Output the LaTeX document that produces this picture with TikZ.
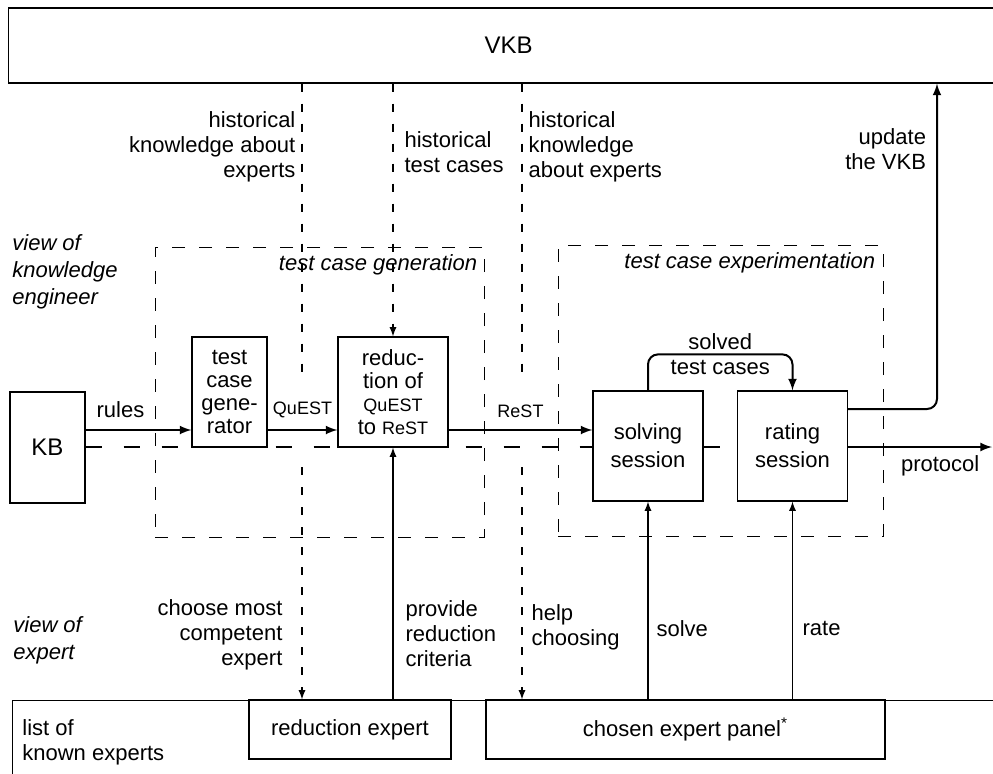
\documentclass[tikz,border=0pt]{standalone}
\usepackage{fontspec}
\setmainfont{Liberation Sans}
\usetikzlibrary{positioning, calc}

\newcommand{\acro}[1]{{\fontsize{9}{10}\selectfont #1}}

\begin{document}
\begin{tikzpicture}[x=0.5pt, y=-0.5pt,
	font=\fontsize{11}{12.5}\selectfont,
	box/.style={rectangle, draw, line width=0.6pt, align=center, inner sep=0pt},
	proc/.style={box, minimum width=#1, minimum height=55pt, font=\fontsize{11}{11.5}\selectfont},
	sess/.style={box, minimum width=55pt, minimum height=55pt, font=\fontsize{11}{14}\selectfont},
	group/.style={draw, line width=0.5pt, dash pattern=on 6.5pt off 7pt},
	hist/.style={line width=0.6pt, dash pattern=on 4pt off 6pt},
	proto/.style={line width=0.8pt, dash pattern=on 8pt off 11pt},
	flow/.style={line width=1pt, -latex},
	feed/.style={line width=0.6pt, -latex},
	lbl/.style={inner sep=2pt, align=left},
	rlbl/.style={inner sep=2pt, align=right},
	view/.style={inner sep=0pt, align=left, font=\fontsize{11}{13.5}\selectfont\itshape}
	]
	\useasboundingbox (0,0) rectangle (993,773);

	\node[group, minimum width=164.5pt, minimum height=145pt] (gengrp) at (319.5,392) {};
	\node[group, minimum width=162.5pt, minimum height=145.5pt] (expgrp) at (720.5,390.5) {};
	\node[view, anchor=north east] at ([xshift=-3.5pt,yshift=-4pt]gengrp.north east) {test case generation};
	\node[view, anchor=north east] at ([xshift=-4pt,yshift=-4pt]expgrp.north east) {test case experimentation};

	\node[box, anchor=west, minimum width=500pt, minimum height=37.5pt, font=\fontsize{12}{14}\selectfont] (VKB) at (8,45.5) {VKB};
	\node[box, anchor=north west, minimum width=500pt, minimum height=50pt] (known) at (12,700) {};
	\node[lbl, inner sep=0pt, anchor=north west] at (22,719) {list of\\known experts};

	\node[proc=37.5pt, minimum height=55.5pt, font=\fontsize{12}{14}\selectfont] (KB) at (47.5,447.5) {KB};
	\node[proc=37.5pt] (gen) at (229.5,392) {test\\case\\gene-\\rator};
	\node[proc=55pt] (red) at (393,392) {reduc-\\tion of\\\acro{QuEST}\\to \acro{ReST}};
	\node[sess] (solv) at (648,446) {solving\\session};
	\node[sess] (rate) at (792.5,446) {rating\\session};
	\node[box, minimum width=101pt, minimum height=29.5pt] (redexp) at (350,729.5) {reduction expert};
	\node[box, minimum width=199.5pt, minimum height=29.5pt] (panel) at (685.5,729.5) {chosen expert panel\textsuperscript{*}};

	\node[view, anchor=north west] at (12,234) {view of\\knowledge\\engineer};
	\node[view, anchor=north west] at (13,616) {view of\\expert};

	\coordinate (hk1) at (302,0);
	\coordinate (hk2) at (522,0);
	\coordinate (upd) at (937,0);
	\coordinate (arr) at (0,430);
	\coordinate (proto) at (0,447);
	\coordinate (prend) at (992,447);
	\coordinate (gapt) at (0,372);
	\coordinate (gapb) at (0,467);

	\draw[hist] (VKB.south -| hk1) -- node[pos=0.22, left=1pt, rlbl] {historical\\knowledge about\\experts} (gapt -| hk1);
	\draw[hist, -latex] (gapb -| hk1) -- node[pos=0.72, left=7.5pt, rlbl] {choose most\\competent\\expert} (redexp.north -| hk1);
	\draw[hist, -latex] (VKB.south -| red.north) -- node[pos=0.27, right=3.5pt, lbl] {historical\\test cases} (red.north);
	\draw[hist] (VKB.south -| hk2) -- node[pos=0.22, right=1pt, lbl] {historical\\knowledge\\about experts} (gapt -| hk2);
	\draw[hist, -latex] (gapb -| hk2) -- node[pos=0.69, right=2.5pt, lbl] {help\\choosing} (panel.north -| hk2);

	\draw[flow] (KB.east |- arr) -- node[pos=0.33, above=3.5pt, lbl] {rules} (gen.west |- arr);
	\draw[flow] (gen.east |- arr) -- node[above=3.5pt, lbl] {\acro{QuEST}} (red.west |- arr);
	\draw[flow] (red.east |- arr) -- node[above=3.5pt, lbl] {\acro{ReST}} (solv.west |- arr);
	\draw[flow, rounded corners=5pt] (solv.north) -- ++(0,-36) -| node[pos=0.25, align=center, inner sep=0pt] {solved\\test cases} (rate.north);
	\draw[flow, rounded corners=5pt] ([yshift=18.5pt]rate.east) -| node[pos=0.9, left=3pt, rlbl] {update\\the VKB} (VKB.south -| upd);

	\draw[proto] (KB.east |- proto) -- (solv.west |- proto) (solv.east |- proto) -- (rate.west |- proto);
	\draw[flow] (rate.east |- proto) -- node[pos=0.64, below=2pt, lbl] {protocol} (prend);

	\draw[feed] (redexp.north -| red.south) -- node[pos=0.26, right=4pt, lbl] {provide\\reduction\\criteria} (red.south);
	\draw[feed] (panel.north -| solv.south) -- node[pos=0.36, right=2pt, lbl] {solve} (solv.south);
	\draw[feed] (panel.north -| rate.south) -- node[pos=0.36, right=2.75pt, lbl] {rate} (rate.south);
\end{tikzpicture}
\end{document}
